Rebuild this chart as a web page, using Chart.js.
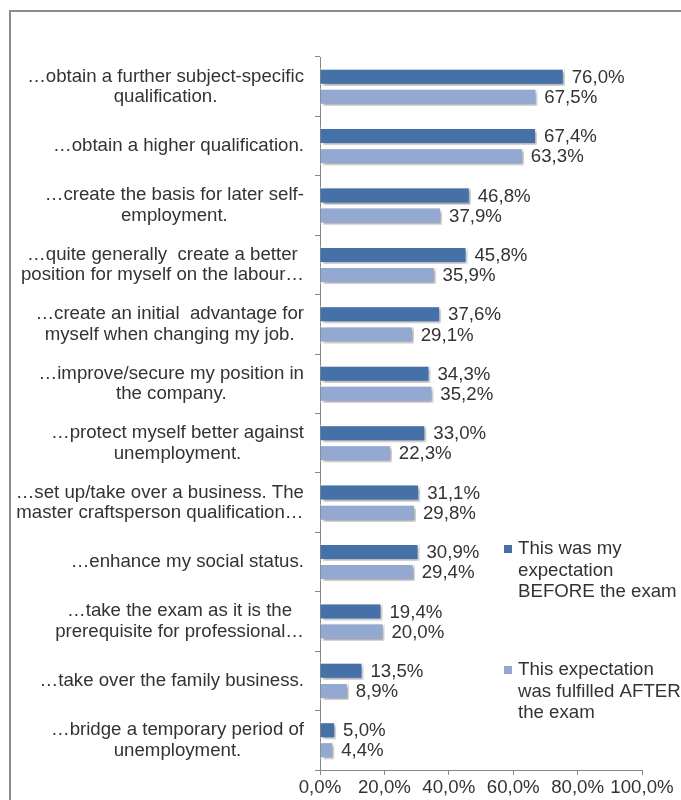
<!DOCTYPE html>
<html>
<head>
<meta charset="utf-8">
<script src="https://cdn.jsdelivr.net/npm/chart.js@4.4.1/dist/chart.umd.min.js"></script>
<style>
  html, body { margin: 0; padding: 0; background: #fff; }
  #frame { position: absolute; left: 9px; top: 10px; width: 700px; height: 820px;
           border-top: 2px solid #8c8c8c; border-left: 2px solid #8c8c8c; }
  #wrap { position: absolute; left: 0; top: 0; width: 681px; height: 800px; }
</style>
</head>
<body>
<div id="frame"></div>
<div id="wrap"><canvas id="chart" width="681" height="800"></canvas></div>
<script>
// categories (one array per label, each entry = a text line)
const categories = [
  ['\u2026obtain a further subject-specific', 'qualification.'],
  ['\u2026obtain a higher qualification.'],
  ['\u2026create the basis for later self-', 'employment.'],
  ['\u2026quite generally  create a better', 'position for myself on the labour\u2026'],
  ['\u2026create an initial  advantage for', 'myself when changing my job.'],
  ['\u2026improve/secure my position in', 'the company.'],
  ['\u2026protect myself better against', 'unemployment.'],
  ['\u2026set up/take over a business. The', 'master craftsperson qualification\u2026'],
  ['\u2026enhance my social status.'],
  ['\u2026take the exam as it is the', 'prerequisite for professional\u2026'],
  ['\u2026take over the family business.'],
  ['\u2026bridge a temporary period of', 'unemployment.']
];
const before = [76.0, 67.4, 46.8, 45.8, 37.6, 34.3, 33.0, 31.1, 30.9, 19.4, 13.5, 5.0];
const after = [67.5, 63.3, 37.9, 35.9, 29.1, 35.2, 22.3, 29.8, 29.4, 20.0, 8.9, 4.4];
const seriesNames = [
  ['This was my', 'expectation', 'BEFORE the exam'],
  ['This expectation', 'was fulfilled AFTER', 'the exam']
];
const xTicks = [0, 20, 40, 60, 80, 100];

const FONT = '"Liberation Sans", Arial, sans-serif';
const SIZE = 18.67;
const TEXT = '#333333';
const AXIS = '#868686';

function pct(v) {
  return v.toFixed(1).replace('.', ',') + '%';
}

// shadow under the bars
const barShadow = {
  id: 'barShadow',
  beforeDatasetsDraw(chart) {
    const ctx = chart.ctx;
    ctx.save();
    ctx.shadowColor = 'rgba(0,0,0,0.4)';
    ctx.shadowBlur = 3;
    ctx.shadowOffsetX = 2;
    ctx.shadowOffsetY = 2;
  },
  afterDatasetsDraw(chart) {
    chart.ctx.restore();
  }
};

// category labels: lines centred inside a block that sits right next to the axis
const catLabels = {
  id: 'catLabels',
  afterDraw(chart) {
    const ctx = chart.ctx;
    const y = chart.scales.y;
    const right = chart.chartArea.left - 16;
    ctx.save();
    ctx.font = SIZE + 'px ' + FONT;
    ctx.fillStyle = TEXT;
    ctx.textAlign = 'center';
    ctx.textBaseline = 'middle';
    categories.forEach((lines, i) => {
      const w = Math.max(...lines.map(l => ctx.measureText(l).width));
      const cx = right - w / 2;
      const cy = y.getPixelForValue(i);
      const lh = 20.5;
      lines.forEach((l, j) => {
        ctx.fillText(l, cx, cy + (j - (lines.length - 1) / 2) * lh);
      });
    });
    ctx.restore();
  }
};

// value labels at the end of each bar
const valueLabels = {
  id: 'valueLabels',
  afterDatasetsDraw(chart) {
    const ctx = chart.ctx;
    ctx.save();
    ctx.font = SIZE + 'px ' + FONT;
    ctx.fillStyle = TEXT;
    ctx.textAlign = 'left';
    ctx.textBaseline = 'middle';
    chart.data.datasets.forEach((ds, di) => {
      chart.getDatasetMeta(di).data.forEach((bar, i) => {
        ctx.fillText(pct(ds.data[i]), bar.x + 7, bar.y + 1);
      });
    });
    ctx.restore();
  }
};

// legend inside the plot, right side
const sideLegend = {
  id: 'sideLegend',
  afterDraw(chart) {
    const ctx = chart.ctx;
    const tops = [549, 670];
    ctx.save();
    ctx.font = SIZE + 'px ' + FONT;
    ctx.textBaseline = 'middle';
    ctx.textAlign = 'left';
    chart.data.datasets.forEach((ds, di) => {
      ctx.fillStyle = ds.backgroundColor;
      ctx.fillRect(504, tops[di] - 4, 8, 8);
      ctx.fillStyle = TEXT;
      seriesNames[di].forEach((l, j) => {
        ctx.fillText(l, 518, tops[di] + j * 21.5);
      });
    });
    ctx.restore();
  }
};

new Chart(document.getElementById('chart'), {
  type: 'bar',
  data: {
    labels: categories,
    datasets: [
      {
        label: seriesNames[0].join(' '),
        data: before,
        backgroundColor: '#4571A8',
        borderColor: '#ffffff',
        borderWidth: 2,
        borderSkipped: 'start',
        categoryPercentage: 0.675,
        barPercentage: 0.9
      },
      {
        label: seriesNames[1].join(' '),
        data: after,
        backgroundColor: '#94A9D2',
        borderColor: '#ffffff',
        borderWidth: 2,
        borderSkipped: 'start',
        categoryPercentage: 0.675,
        barPercentage: 0.9
      }
    ]
  },
  options: {
    indexAxis: 'y',
    responsive: false,
    animation: false,
    layout: { padding: { left: 0, top: 57, right: 39, bottom: 0 } },
    plugins: {
      legend: { display: false },
      tooltip: { enabled: false }
    },
    scales: {
      x: {
        min: 0,
        max: 100,
        afterBuildTicks: s => { s.ticks = xTicks.map(v => ({ value: v })); },
        afterFit: s => { s.height = 30; },
        ticks: {
          callback: v => pct(v),
          color: TEXT,
          font: { family: FONT, size: SIZE },
          maxRotation: 0,
          autoSkip: false,
          padding: 2
        },
        grid: { drawOnChartArea: false, color: AXIS, tickLength: 5 },
        border: { color: AXIS }
      },
      y: {
        afterFit: s => { s.width = 320; },
        ticks: { display: false },
        grid: { offset: true, drawOnChartArea: false, color: AXIS, tickLength: 5 },
        border: { color: AXIS }
      }
    }
  },
  plugins: [barShadow, valueLabels, catLabels, sideLegend]
});
</script>
</body>
</html>
